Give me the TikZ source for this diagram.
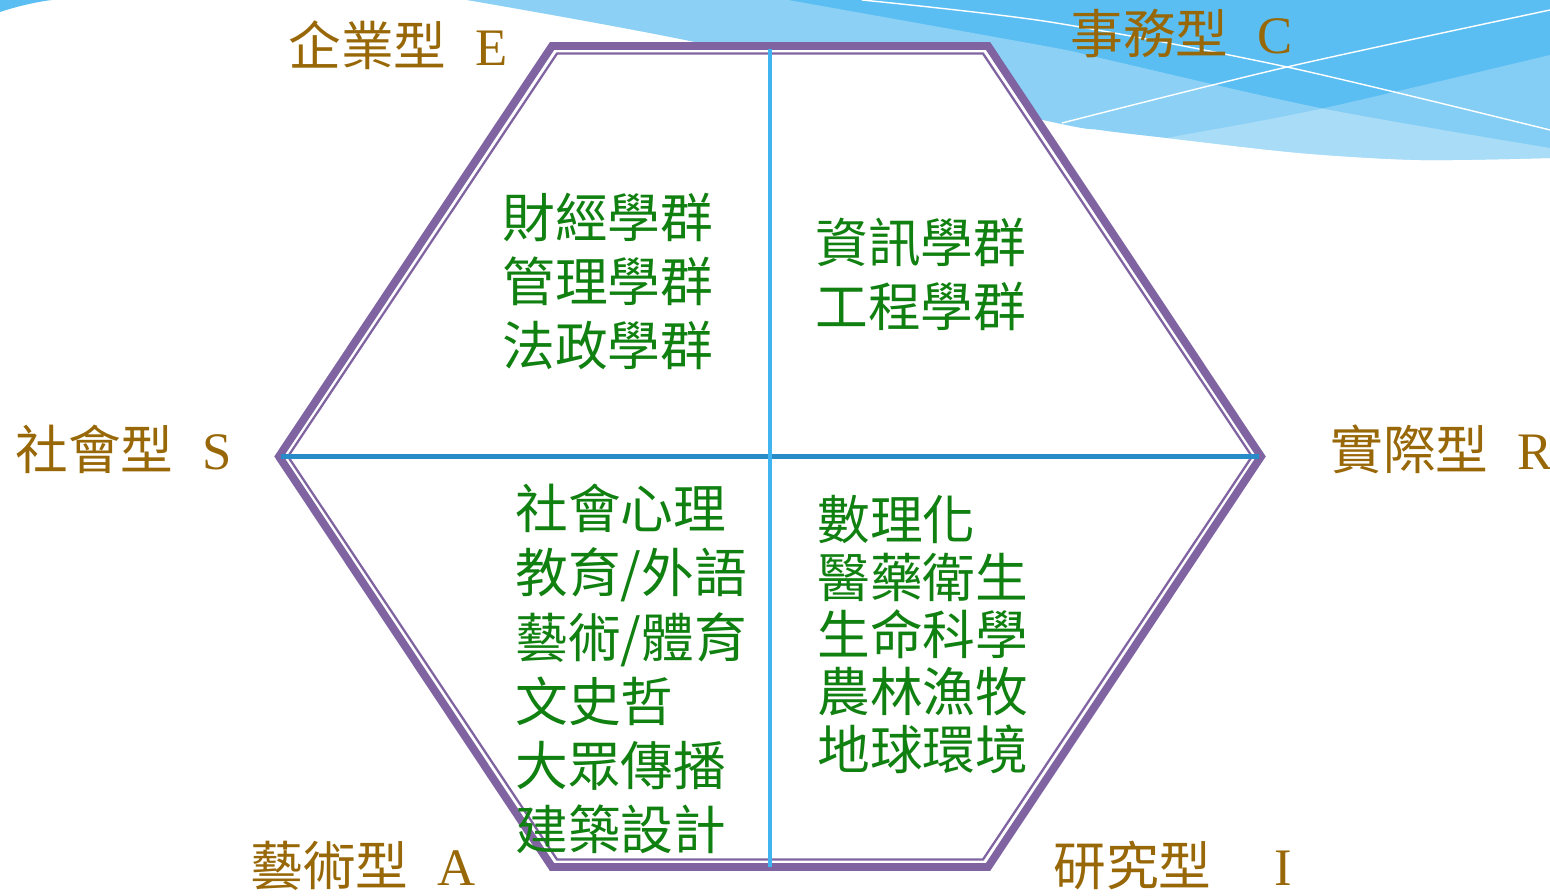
\documentclass[tikz,border=0pt]{standalone}
\usepackage{fontspec}
\setmainfont{Liberation Serif}
\newfontfamily\cjk{Noto Sans CJK TC}
\usepackage{tikz}
\definecolor{hexpurple}{RGB}{128,100,162}
\definecolor{typegold}{RGB}{152,104,8}
\definecolor{groupgreen}{RGB}{16,128,16}
\definecolor{skyblue}{RGB}{91,190,242}
\definecolor{vlineblue}{RGB}{64,180,240}
\definecolor{hlineblue}{RGB}{40,140,200}

\begin{document}
\begin{tikzpicture}[x=0.02cm, y=-0.02cm,
    typelabel/.style={anchor=west, inner sep=0pt, text=typegold, font=\fontsize{30}{36}\selectfont},
    grouplist/.style={anchor=north west, inner sep=0pt, align=left, text=groupgreen, font=\cjk\fontsize{30}{36.5}\selectfont},
    wave/.style={white, line width=0.8pt}]
  \useasboundingbox (0,0) rectangle (1550,895);

  % background swoosh
  \fill[skyblue] (0,12) .. controls (15,7) and (35,2) .. (52,0) -- (0,0) -- cycle;
  \begin{scope}
    \path[clip] plot[smooth] coordinates {(467,0) (695,42) (1043,120) (1100,130) (1167,138) (1300,153) (1420,160) (1550,158)} -- (1550,0) -- cycle;
    \fill[skyblue] (400,0) rectangle (1550,200);
    \fill[white, opacity=0.3] plot[smooth] coordinates {(788,0) (1050,47) (1100,58) (1320,108) (1550,148)} -- (1550,200) -- (400,200) -- (400,0) -- cycle;
    \fill[white, opacity=0.25] plot[smooth] coordinates {(1000,170) (1167,138) (1320,109) (1550,55)} -- (1550,200) -- (1000,200) -- cycle;
  \end{scope}
  \draw[wave] plot[smooth] coordinates {(862,0) (1050,22) (1287,67) (1550,130)};
  \draw[wave] plot[smooth] coordinates {(1062,123) (1287,67) (1550,10)};

  % hexagon
  \draw[hexpurple, line width=4.5pt, fill=white] (552,46) -- (988,46) -- (1261,456.5) -- (988,867) -- (552,867) -- (279,456.5) -- cycle;
  \draw[hexpurple, line width=1.3pt] (557,53.5) -- (983,53.5) -- (1252,456.5) -- (983,859.5) -- (557,859.5) -- (288,456.5) -- cycle;

  \coordinate (up) at (770,49);
  \coordinate (down) at (770,867);
  \coordinate (west) at (281,456.5);
  \coordinate (east) at (1259,456.5);
  \draw[hlineblue, line width=2.3pt] (west) -- (east);
  \draw[vlineblue, line width=2.3pt] (up) -- (down);

  % types
  \node[typelabel] (E) at (288,45) {{\cjk 企業型}\hspace{0.55em}E};
  \node[typelabel] (C) at (1070,34) {{\cjk 事務型}\hspace{0.55em}C};
  \node[typelabel] (S) at (15,449) {{\cjk 社會型}\hspace{0.55em}S};
  \node[typelabel] (R) at (1330,449) {{\cjk 實際型}\hspace{0.55em}R};
  \node[typelabel] (A) at (250,866) {{\cjk 藝術型}\hspace{0.55em}A};
  \node[typelabel] (I) at (1053,866) {{\cjk 研究型}\hspace{1.2em}I};

  % groups
  \node[grouplist] (fin) at (502,193) {財經學群\\管理學群\\法政學群};
  \node[grouplist] (info) at (815,218) {資訊學群\\工程學群};
  \node[grouplist] (soc) at (515,484) {社會心理\\教育/外語\\藝術/體育\\文史哲\\大眾傳播\\建築設計};
  \node[grouplist, font=\cjk\fontsize{30}{32.7}\selectfont] (sci) at (817,495) {數理化\\醫藥衛生\\生命科學\\農林漁牧\\地球環境};
\end{tikzpicture}
\end{document}
